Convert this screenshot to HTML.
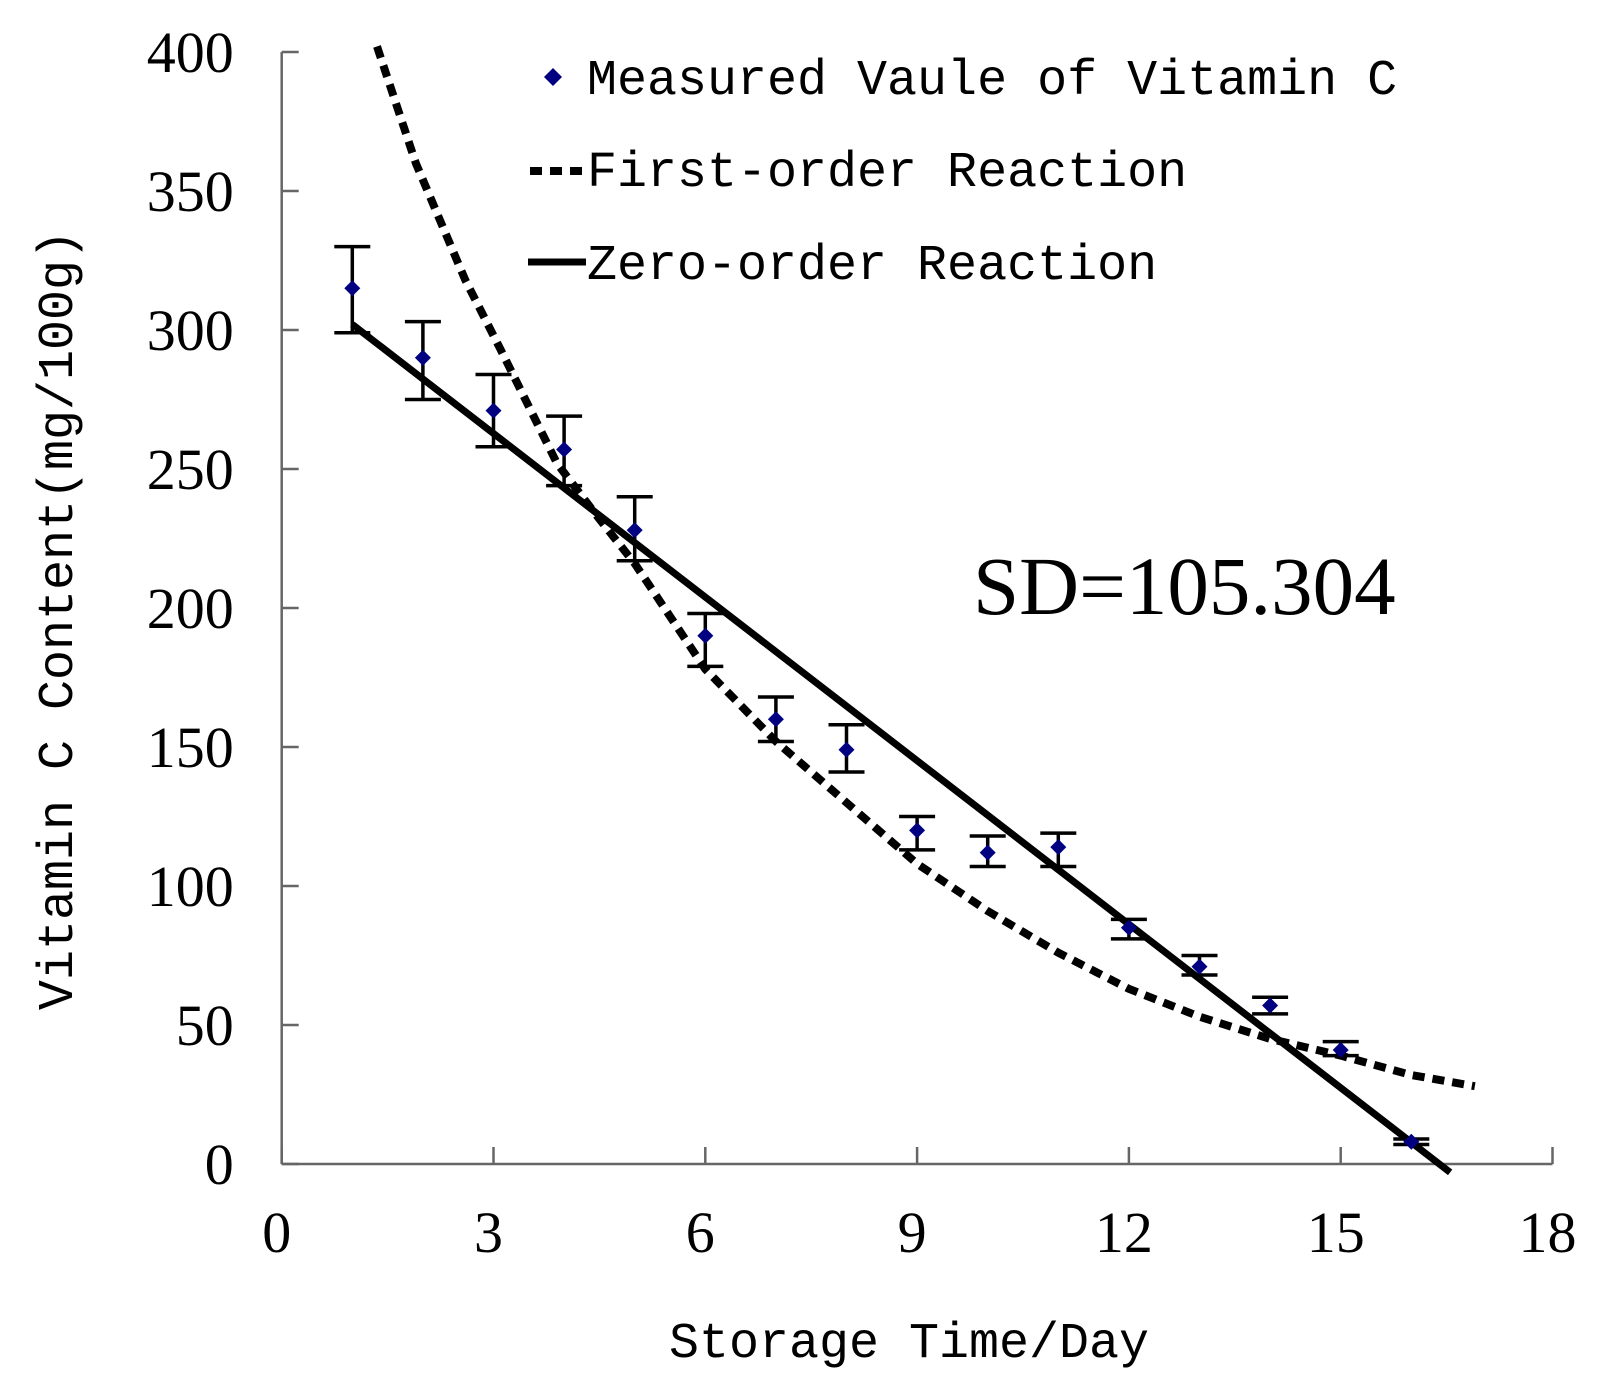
<!DOCTYPE html>
<html><head><meta charset="utf-8"><style>
body{margin:0;background:#fff}
svg{display:block}
.t{font-family:"Liberation Serif",serif;font-size:58px;fill:#000}
.m{font-family:"Liberation Mono",monospace;font-size:50px;fill:#000}
</style></head><body>
<svg id="s" width="1600" height="1392" viewBox="0 0 1600 1392" xmlns="http://www.w3.org/2000/svg">
<rect width="1600" height="1392" fill="#fff"/>
<g id="ax" stroke="#666" stroke-width="2.5" fill="none"></g>
<g id="lbl"></g>
<text class="m" x="587" y="94">Measured Vaule of Vitamin C</text>
<text class="m" x="587" y="186">First-order Reaction</text>
<text class="m" x="587" y="279">Zero-order Reaction</text>
<path d="M553 68 l9 9 l-9 9 l-9 -9z" fill="#000080"/>
<line x1="530" y1="171" x2="582" y2="171" stroke="#000" stroke-width="8" stroke-dasharray="12 8"/>
<line x1="528" y1="262" x2="586" y2="262" stroke="#000" stroke-width="7"/>
<text x="973" y="614" font-family="Liberation Serif,serif" font-size="83">SD=105.304</text>
<text class="m" x="909" y="1357" text-anchor="middle">Storage Time/Day</text>
<text class="m" transform="translate(72,620) rotate(-90)" text-anchor="middle">Vitamin C Content(mg/100g)</text>
<g id="d"></g>
</svg>
<script>
var X=d=>281.7+70.6*d, Y=v=>1164-2.78*v, NS="http://www.w3.org/2000/svg";
function el(p,t,a,txt){var e=document.createElementNS(NS,t);for(var k in a)e.setAttribute(k,a[k]);if(txt!=null)e.textContent=txt;document.getElementById(p).appendChild(e);return e;}
el("ax","line",{x1:X(0),y1:Y(400),x2:X(0),y2:Y(0)});
el("ax","line",{x1:X(0),y1:Y(0),x2:X(18),y2:Y(0)});
for(var v=0;v<=400;v+=50){el("ax","line",{x1:X(0),y1:Y(v),x2:X(0)+17,y2:Y(v)});el("lbl","text",{"class":"t",x:X(0)-48,y:Y(v)+20,"text-anchor":"end"},v);}
for(var d=0;d<=18;d+=3){el("ax","line",{x1:X(d),y1:Y(0),x2:X(d),y2:Y(0)-17});el("lbl","text",{"class":"t",x:X(d)-5,y:1252,"text-anchor":"middle"},d);}
var fo=[[1.35,402],[1.9,360],[2.6,318],[3.1,293],[3.9,252],[4.5,232],[5,216],[6,178],[7,152],[8,130],[9,108],[10,91],[11,76],[12,63],[13,53],[14,45],[15,39],[16,32],[16.9,28]];
el("d","path",{d:"M"+fo.map(p=>X(p[0])+" "+Y(p[1])).join(" L"),fill:"none",stroke:"#000","stroke-width":8,"stroke-dasharray":"12 8"});
el("d","line",{x1:X(1),y1:Y(302),x2:X(16.55),y2:Y(-3),stroke:"#000","stroke-width":7});
var m=[[315,299,330],[290,275,303],[271,258,284],[257,244,269],[228,217,240],[190,179,198],[160,152,168],[149,141,158],[120,113,125],[112,107,118],[114,107,119],[85,81,88],[71,68,75],[57,54,60],[41,39,44],[8,7,9]];
m.forEach((p,i)=>{var x=X(i+1);
el("d","path",{d:"M"+x+" "+Y(p[1])+"V"+Y(p[2])+"M"+(x-18)+" "+Y(p[1])+"h36M"+(x-18)+" "+Y(p[2])+"h36",stroke:"#000","stroke-width":3.5,fill:"none"});
el("d","path",{d:"M"+x+" "+(Y(p[0])-8)+"l8 8l-8 8l-8 -8z",fill:"#000080"});});
</script>
</body></html>
